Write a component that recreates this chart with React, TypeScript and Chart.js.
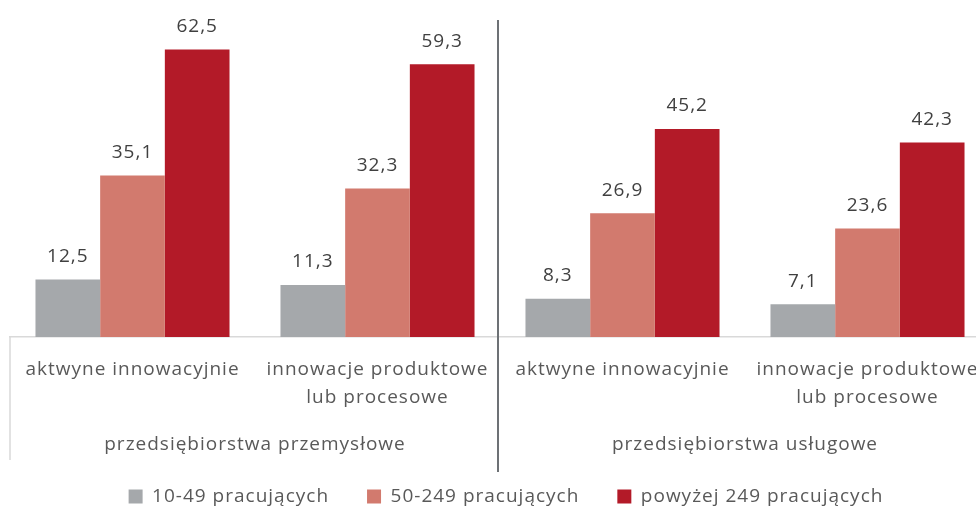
import React, { useEffect, useRef } from "react";
import { Chart, registerables } from "chart.js";

Chart.register(...registerables);

const categories: string[][] = [
  ["aktwyne innowacyjnie"],
  ["innowacje produktowe", "lub procesowe"],
  ["aktwyne innowacyjnie"],
  ["innowacje produktowe", "lub procesowe"],
];
const groups: string[] = ["przedsiębiorstwa przemysłowe", "przedsiębiorstwa usługowe"];
const seriesNames: string[] = ["10-49 pracujących", "50-249 pracujących", "powyżej 249 pracujących"];
const small: number[] = [12.5, 11.3, 8.3, 7.1];
const medium: number[] = [35.1, 32.3, 26.9, 23.6];
const large: number[] = [62.5, 59.3, 45.2, 42.3];
const colors: string[] = ["#A5A8AB", "#D27A6E", "#B31A28"];

const FONT = "'Open Sans', 'DejaVu Sans', sans-serif";
const TEXT = "#595959";
const SPACING = "1px";

const spacingPlugin = {
  id: "spacing",
  beforeLayout(chart: any) {
    chart.ctx.letterSpacing = SPACING;
  },
  afterLayout(chart: any) {
    if (chart.legend) {
      chart.legend.left += 6;
      chart.legend.right += 6;
    }
  },
  beforeDraw(chart: any) {
    chart.ctx.letterSpacing = SPACING;
  },
};

const decorPlugin = {
  id: "decor",
  afterDraw(chart: any) {
    const ctx = chart.ctx;
    const x = chart.scales.x;
    const area = chart.chartArea;
    ctx.save();
    ctx.letterSpacing = SPACING;
    ctx.strokeStyle = "#D9D9D9";
    ctx.lineWidth = 1.5;
    [area.left, area.right].forEach((px: number) => {
      ctx.beginPath();
      ctx.moveTo(px, area.bottom);
      ctx.lineTo(px, area.bottom + 123);
      ctx.stroke();
    });
    const mid = (x.getPixelForValue(1) + x.getPixelForValue(2)) / 2;
    ctx.strokeStyle = "#6D7175";
    ctx.lineWidth = 2;
    ctx.beginPath();
    ctx.moveTo(mid - 2, area.top + 5);
    ctx.lineTo(mid - 2, area.bottom + 135);
    ctx.stroke();
    ctx.fillStyle = TEXT;
    ctx.font = `19px ${FONT}`;
    ctx.textAlign = "center";
    ctx.textBaseline = "middle";
    groups.forEach((g, i) => {
      const cx = (x.getPixelForValue(i * 2) + x.getPixelForValue(i * 2 + 1)) / 2;
      ctx.fillText(g, cx, area.bottom + 108);
    });
    ctx.fillStyle = "#404040";
    chart.data.datasets.forEach((ds: any, di: number) => {
      const meta = chart.getDatasetMeta(di);
      meta.data.forEach((bar: any, i: number) => {
        const v = ds.data[i] as number;
        ctx.fillText(v.toFixed(1).replace(".", ","), bar.x, bar.y - 23);
      });
    });
    ctx.restore();
  },
};

export default function App() {
  const ref = useRef<HTMLCanvasElement | null>(null);
  useEffect(() => {
    if (!ref.current) return;
    const chart = new Chart(ref.current, {
      type: "bar",
      data: {
        labels: categories,
        datasets: [small, medium, large].map((d, i) => ({
          label: seriesNames[i],
          data: d,
          backgroundColor: colors[i],
          borderWidth: 0,
          categoryPercentage: 0.792,
          barPercentage: 1,
        })),
      },
      options: {
        responsive: false,
        animation: false,
        devicePixelRatio: 1,
        layout: { padding: { top: 15, left: 10, right: 20, bottom: 0 } },
        plugins: {
          legend: {
            position: "bottom",
            labels: {
              boxWidth: 14,
              boxHeight: 14,
              padding: 38,
              color: TEXT,
              font: { family: FONT, size: 19 },
            },
          },
          tooltip: { enabled: false },
        },
        scales: {
          x: {
            grid: { display: false, drawTicks: false },
            border: { display: true, color: "#D9D9D9", width: 1.5 },
            ticks: {
              color: TEXT,
              font: { family: FONT, size: 19, lineHeight: 1.5 },
              padding: 18,
              maxRotation: 0,
              autoSkip: false,
            },
            afterFit(scale: any) {
              scale.height = 112;
            },
          },
          y: {
            display: false,
            min: 0,
            max: 70,
          },
        },
      },
      plugins: [spacingPlugin, decorPlugin],
    });
    return () => chart.destroy();
  }, []);
  return (
    <div
      style={{
        position: "fixed",
        left: 0,
        top: 0,
        width: 976,
        height: 507,
        overflow: "hidden",
        background: "#fff",
      }}
    >
      <canvas ref={ref} width={1010} height={516} />
    </div>
  );
}
